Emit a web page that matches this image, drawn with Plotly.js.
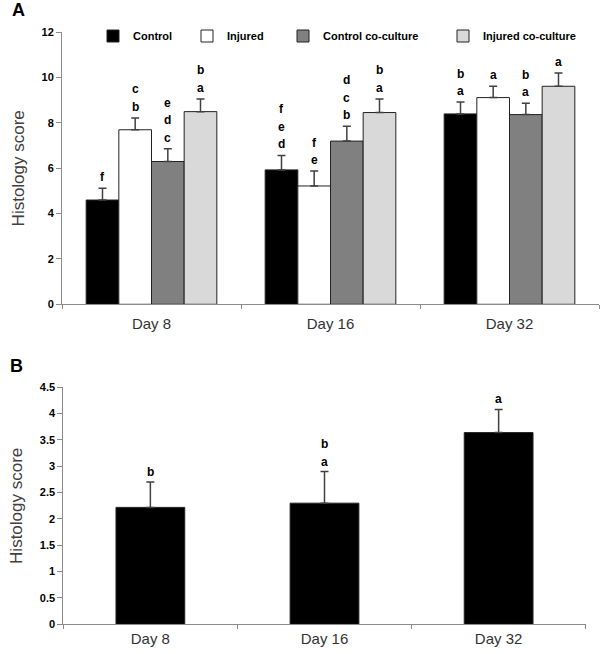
<!DOCTYPE html>
<html>
<head>
<meta charset="utf-8">
<script src="https://cdn.plot.ly/plotly-3.0.1.min.js"></script>
<style>html,body{margin:0;padding:0;background:#fff;}#chart{width:600px;height:654px;}</style>
</head>
<body>
<div id="chart"></div>
<script>
// ---------- data ----------
const days = ['Day 8', 'Day 16', 'Day 32'];
const seriesNames = ['Control', 'Injured', 'Control co-culture', 'Injured co-culture'];
const controlMean = [4.6, 5.93, 8.4];
const controlErr = [0.52, 0.64, 0.52];
const injuredMean = [7.7, 5.22, 9.12];
const injuredErr = [0.52, 0.66, 0.5];
const controlCoMean = [6.3, 7.2, 8.37];
const controlCoErr = [0.56, 0.66, 0.5];
const injuredCoMean = [8.5, 8.46, 9.62];
const injuredCoErr = [0.56, 0.6, 0.58];
// significance letters, listed top to bottom
const controlLetters = [['f'], ['f', 'e', 'd'], ['b', 'a']];
const injuredLetters = [['c', 'b'], ['f', 'e'], ['a']];
const controlCoLetters = [['e', 'd', 'c'], ['d', 'c', 'b'], ['b', 'a']];
const injuredCoLetters = [['b', 'a'], ['b', 'a'], ['a']];

const overallMean = [2.22, 2.3, 3.64];
const overallErr = [0.48, 0.6, 0.44];
const overallLetters = [['b'], ['b', 'a'], ['a']];

// ---------- styling ----------
const colors = ['#000000', '#ffffff', '#808080', '#d9d9d9'];
const axisGray = '#8c8c8c';
const tickFont = {family: 'Liberation Sans, Arial, sans-serif', size: 11, color: '#000', weight: 'bold'};
const catFont = {family: 'Liberation Sans, Arial, sans-serif', size: 15, color: '#333'};
const titleFont = {family: 'Liberation Sans, Arial, sans-serif', size: 17, color: '#404040'};
const letterFont = {family: 'Liberation Sans, Arial, sans-serif', size: 12, color: '#000', weight: 'bold'};
const bargapA = 0.27;
const barWidthB = 0.395;
const legendWidths = [49, 51, 115, 110];

const meansA = [controlMean, injuredMean, controlCoMean, injuredCoMean];
const errsA = [controlErr, injuredErr, controlCoErr, injuredCoErr];
const lettersA = [controlLetters, injuredLetters, controlCoLetters, injuredCoLetters];

const traces = [];
meansA.forEach((m, i) => {
  traces.push({
    type: 'bar', name: seriesNames[i], x: days, y: m,
    xaxis: 'x', yaxis: 'y',
    marker: {color: colors[i], line: {color: '#222', width: 1}},
    error_y: {type: 'data', array: errsA[i], arrayminus: errsA[i].map(() => 0), symmetric: false,
              color: '#404040', thickness: 1.5, width: 4},
    legendwidth: legendWidths[i],
    hoverinfo: 'skip'
  });
});
traces.push({
  type: 'bar', name: 'Overall', x: days, y: overallMean, width: barWidthB,
  xaxis: 'x2', yaxis: 'y2', showlegend: false,
  marker: {color: '#000', line: {color: '#222', width: 1}},
  error_y: {type: 'data', array: overallErr, arrayminus: overallErr.map(() => 0), symmetric: false,
            color: '#404040', thickness: 1.5, width: 4},
  hoverinfo: 'skip'
});

const annotations = [];
const letterGap = 11;
const letterStep = 17.5;
const nSeries = meansA.length;
const barW = (1 - bargapA) / nSeries;
lettersA.forEach((perDay, i) => {
  perDay.forEach((stack, d) => {
    const top = meansA[i][d] + errsA[i][d];
    const xPos = d + (i - (nSeries - 1) / 2) * barW;
    const n = stack.length;
    stack.forEach((ch, k) => {
      annotations.push({
        xref: 'x', yref: 'y', x: xPos, y: top, text: ch, showarrow: false,
        yanchor: 'middle', yshift: letterGap + (n - 1 - k) * letterStep, font: letterFont
      });
    });
  });
});
overallLetters.forEach((stack, d) => {
  const top = overallMean[d] + overallErr[d];
  const n = stack.length;
  stack.forEach((ch, k) => {
    annotations.push({
      xref: 'x2', yref: 'y2', x: d, y: top, text: ch, showarrow: false,
      yanchor: 'middle', yshift: letterGap - 1 + (n - 1 - k) * letterStep, font: letterFont
    });
  });
});
annotations.push({xref: 'paper', yref: 'paper', x: 18 / 600, y: 1 - 10 / 654, text: 'A', showarrow: false,
  xanchor: 'center', yanchor: 'middle', font: {family: 'Liberation Sans, Arial, sans-serif', size: 18, color: '#000', weight: 'bold'}});
annotations.push({xref: 'paper', yref: 'paper', x: 16 / 600, y: 1 - 366 / 654, text: 'B', showarrow: false,
  xanchor: 'center', yanchor: 'middle', font: {family: 'Liberation Sans, Arial, sans-serif', size: 18, color: '#000', weight: 'bold'}});

const xBase = {
  type: 'category', showline: true, linecolor: axisGray, linewidth: 1,
  ticks: 'outside', tickson: 'boundaries', ticklen: 4, tickcolor: axisGray,
  tickfont: catFont, showgrid: false, zeroline: false, fixedrange: true
};
const yBase = {
  showline: true, linecolor: axisGray, linewidth: 1, ticks: 'outside', ticklen: 5, tickcolor: axisGray,
  tickfont: tickFont, showgrid: false, zeroline: false, fixedrange: true,
  title: {text: 'Histology score', font: titleFont, standoff: 12}
};

const layout = {
  width: 600, height: 654,
  margin: {l: 0, r: 0, t: 0, b: 0},
  paper_bgcolor: '#fff', plot_bgcolor: '#fff',
  barmode: 'group', bargap: bargapA, bargroupgap: 0,
  xaxis: Object.assign({}, xBase, {domain: [62 / 600, 599 / 600], anchor: 'y', ticklabelstandoff: 6}),
  yaxis: Object.assign({}, yBase, {domain: [1 - 304.3 / 654, 1 - 32.3 / 654], anchor: 'x', range: [0, 12], dtick: 2}),
  xaxis2: Object.assign({}, xBase, {domain: [63.3 / 600, 585.7 / 600], anchor: 'y2', ticklabelstandoff: 1}),
  yaxis2: Object.assign({}, yBase, {domain: [1 - 624.3 / 654, 1 - 387.3 / 654], anchor: 'x2', range: [0, 4.5], dtick: 0.5}),
  showlegend: true,
  legend: {orientation: 'h', x: 93 / 600, xanchor: 'left', y: 1 - 36 / 654, yanchor: 'middle',
           font: {family: 'Liberation Sans, Arial, sans-serif', size: 11, color: '#000', weight: 'bold'},
           bgcolor: 'rgba(0,0,0,0)', itemwidth: 30, traceorder: 'normal'},
  annotations: annotations
};

Plotly.newPlot('chart', traces, layout, {displayModeBar: false, staticPlot: true});
</script>
</body>
</html>
